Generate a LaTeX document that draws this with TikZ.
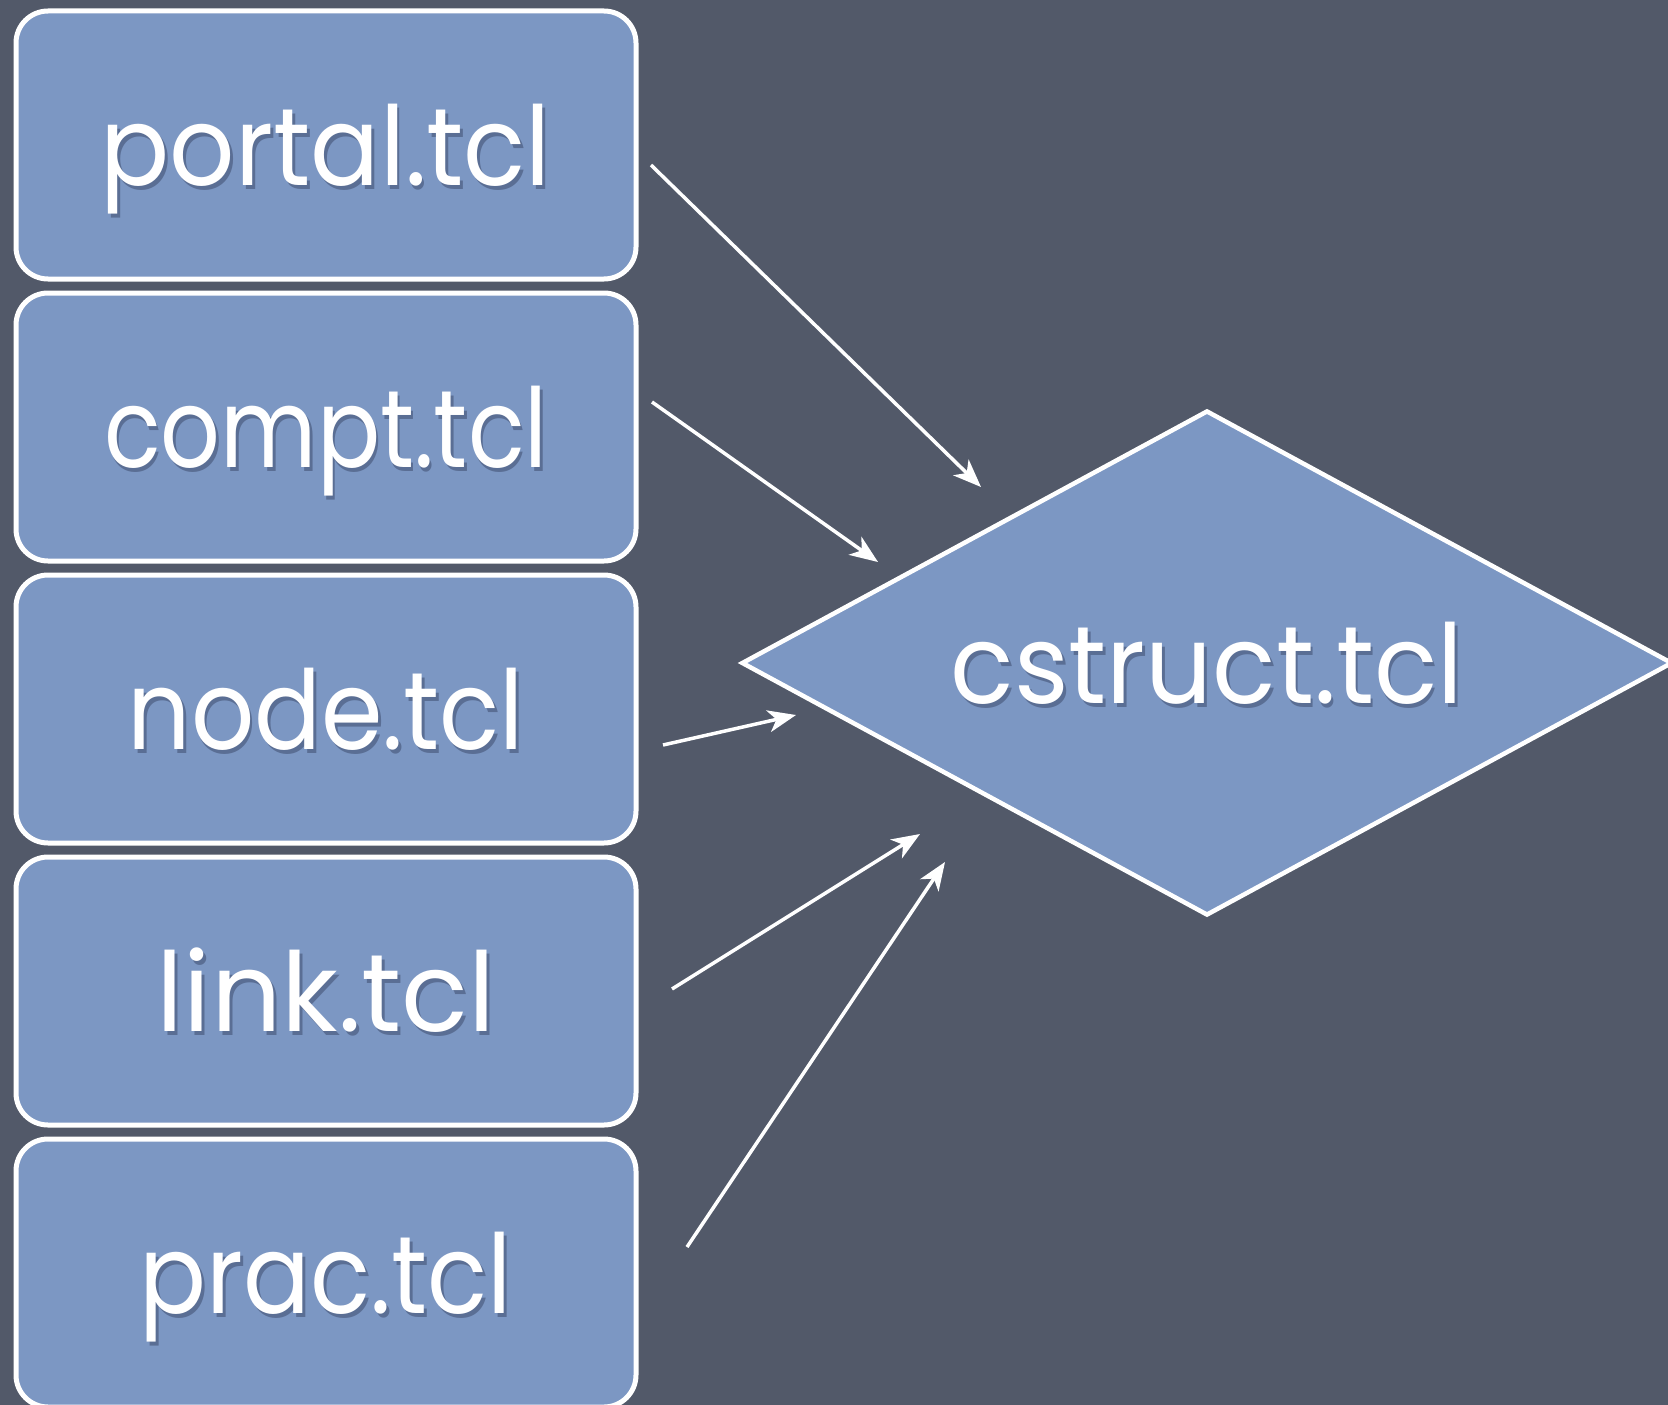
\documentclass[tikz,border=0pt]{standalone}
\usepackage{fontspec}
\setmainfont{Poppins}
\usetikzlibrary{shapes.geometric,arrows.meta}
\definecolor{slate}{HTML}{525969}
\definecolor{boxblue}{HTML}{7C97C3}
\definecolor{textshade}{HTML}{5A6E94}
% white lettering with a soft drop shadow, narrowed horizontally by a factor
\newcommand{\shadowtext}[2]{\scalebox{#1}[1]{\leavevmode
  \rlap{\kern3pt\raisebox{-4pt}{\color{textshade}#2}}{\color{white}#2}}}
\tikzset{
  filebox/.style={draw=white, line width=5pt, fill=boxblue, rounded corners=32pt,
    minimum width=620pt, minimum height=268pt, inner sep=0pt,
    text height=80pt, text depth=0pt, font=\fontsize{110pt}{120pt}\selectfont},
  mainbox/.style={diamond, draw=white, line width=4.5pt, fill=boxblue,
    minimum width=931pt, minimum height=505pt, aspect=1.84, inner sep=0pt,
    text height=80pt, text depth=0pt, font=\fontsize{110pt}{120pt}\selectfont},
  feed/.style={draw=white, line width=3.5pt,
    -{Stealth[length=28pt, width=22pt, inset=8pt]}}
}
\begin{document}
\begin{tikzpicture}[x=1pt, y=-1pt]
  \useasboundingbox (0,0) rectangle (1668,1405);
  \clip (0,0) rectangle (1668,1405);
  \fill[slate] (0,0) rectangle (1668,1405);

  % source files
  \node[filebox] (portal) at (326,145)  {\shadowtext{0.93}{portal.tcl}};
  \node[filebox] (compt)  at (326,427)  {\shadowtext{0.85}{compt.tcl}};
  \node[filebox] (nodef)  at (326,709)  {\shadowtext{0.90}{node.tcl}};
  \node[filebox] (link)   at (326,991)  {\shadowtext{1.00}{link.tcl}};
  \node[filebox] (prac)   at (326,1273) {\shadowtext{0.90}{prac.tcl}};

  % the file they all feed into
  \node[mainbox] (cstruct) at (1207,663) {\shadowtext{0.95}{cstruct.tcl}};

  % arrow tails and heads
  \coordinate (t1) at (651,165);  \coordinate (h1) at (981,487);
  \coordinate (t2) at (652,402);  \coordinate (h2) at (878,562);
  \coordinate (t3) at (663,745);  \coordinate (h3) at (796,715);
  \coordinate (t4) at (672,989);  \coordinate (h4) at (920,834);
  \coordinate (t5) at (687,1247); \coordinate (h5) at (945,862);

  \draw[feed] (t1) -- (h1);
  \draw[feed] (t2) -- (h2);
  \draw[feed] (t3) -- (h3);
  \draw[feed] (t4) -- (h4);
  \draw[feed] (t5) -- (h5);
\end{tikzpicture}
\end{document}
